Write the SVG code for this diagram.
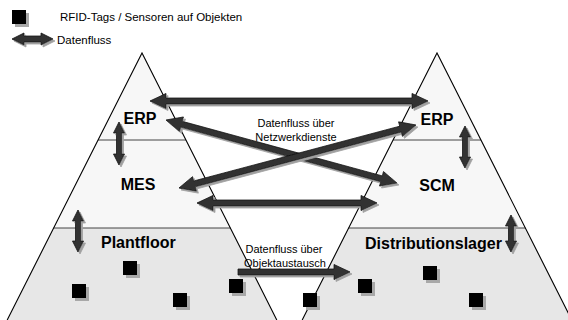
<svg xmlns="http://www.w3.org/2000/svg" width="568" height="320" viewBox="0 0 568 320">
<style>
.top{fill:#f7f7f7;stroke:none}
.bot{fill:#e7e7e7;stroke:none}
.edge{stroke:#000;stroke-width:1.1;fill:none}
.div{stroke:#444;stroke-width:1;fill:none}
.arr{fill:#333;stroke:#111;stroke-width:0.8;filter:url(#sh)}
.tag{fill:#000;filter:url(#sh2)}
.big{font-family:"Liberation Sans",Arial,sans-serif;font-weight:bold;font-size:16px;fill:#000}
.sm{font-family:"Liberation Sans",Arial,sans-serif;font-size:11px;fill:#000}
.lg{font-family:"Liberation Sans",Arial,sans-serif;font-size:11.5px;fill:#000}
.mid{text-anchor:middle}
</style>
<defs>
<filter id="sh" filterUnits="userSpaceOnUse" x="0" y="0" width="568" height="320">
<feOffset in="SourceAlpha" dx="2" dy="2" result="o"/>
<feFlood flood-color="#a0a0a0"/>
<feComposite in2="o" operator="in"/>
<feMerge><feMergeNode/><feMergeNode in="SourceGraphic"/></feMerge>
</filter>
<filter id="sh2" filterUnits="userSpaceOnUse" x="0" y="0" width="568" height="320">
<feOffset in="SourceAlpha" dx="3" dy="3" result="o"/>
<feFlood flood-color="#a8a8a8"/>
<feComposite in2="o" operator="in"/>
<feMerge><feMergeNode/><feMergeNode in="SourceGraphic"/></feMerge>
</filter>
</defs>
<rect width="568" height="320" fill="#fff"/>

<g id="legend">
<rect class="tag" x="12" y="10" width="14" height="14"/>
<text class="lg" x="60" y="21">RFID-Tags / Sensoren auf Objekten</text>
<polygon class="arr" points="12,39 24,33 24,36 41,36 41,33 53,39 41,45 41,42 24,42 24,45"/>
<text class="lg" x="57" y="44">Datenfluss</text>
</g>

<g id="pyramid-left">
<polygon class="top" points="142,53 53.6,228 230.4,228"/>
<polygon class="bot" points="53.6,228 230.4,228 276.8,320 7.2,320"/>
<line class="div" x1="98.1" y1="140" x2="185.9" y2="140"/>
<line class="div" x1="53.6" y1="228" x2="230.4" y2="228"/>
<polyline class="edge" points="7.2,320 142,53 276.8,320"/>
</g>
<g id="pyramid-right">
<polygon class="top" points="437,53 348.6,228 525.4,228"/>
<polygon class="bot" points="348.6,228 525.4,228 571.8,320 302.2,320"/>
<line class="div" x1="393.1" y1="140" x2="480.9" y2="140"/>
<line class="div" x1="348.6" y1="228" x2="525.4" y2="228"/>
<polyline class="edge" points="302.2,320 437,53 571.8,320"/>
</g>

<g id="erp-left"><text class="big mid" x="140" y="124">ERP</text></g>
<g id="mes"><text class="big mid" x="138" y="190">MES</text></g>
<g id="plantfloor"><text class="big" x="101" y="248">Plantfloor</text></g>
<g id="erp-right"><text class="big mid" x="437" y="125">ERP</text></g>
<g id="scm"><text class="big mid" x="437" y="191">SCM</text></g>
<g id="distributionslager"><text class="big" x="365" y="249">Distributionslager</text></g>

<g id="tags">
<rect class="tag" x="123" y="261" width="14" height="14"/>
<rect class="tag" x="72" y="284" width="14" height="14"/>
<rect class="tag" x="173" y="293" width="14" height="14"/>
<rect class="tag" x="229" y="279" width="14" height="14"/>
<rect class="tag" x="303" y="293" width="14" height="14"/>
<rect class="tag" x="358" y="279" width="14" height="14"/>
<rect class="tag" x="423" y="266" width="14" height="14"/>
<rect class="tag" x="469" y="293" width="14" height="14"/>
</g>

<g id="connectors">
<polygon class="arr" points="150,101 166,93.5 166,98 412,98 412,93.5 428,101 412,108.5 412,104 166,104 166,108.5"/>
<polygon class="arr" points="166,120 183.41,116.98 182.22,121.32 382.30,175.91 383.49,171.56 396.95,183.01 379.54,186.03 380.72,181.69 180.65,127.11 179.46,131.45"/>
<polygon class="arr" points="179,188 192.54,176.64 193.69,180.99 399.73,126.20 398.57,121.85 415.96,124.98 402.43,136.35 401.27,132.00 195.23,186.79 196.39,191.14"/>
<polygon class="arr" points="197,203 213,195.5 213,200 361,200 361,195.5 377,203 361,210.5 361,206 213,206 213,210.5"/>
<polygon class="arr" points="238,269 334,269 334,264.5 350,272 334,279.5 334,275 238,275"/>
<polygon class="arr" points="119,122 124.5,133 121.5,133 121.5,154 124.5,154 119,165 113.5,154 116.5,154 116.5,133 113.5,133"/>
<polygon class="arr" points="78,210 83.5,221 80.5,221 80.5,241 83.5,241 78,252 72.5,241 75.5,241 75.5,221 72.5,221"/>
<polygon class="arr" points="465,126 470.5,137 467.5,137 467.5,157 470.5,157 465,168 459.5,157 462.5,157 462.5,137 459.5,137"/>
<polygon class="arr" points="511,215 516.5,226 513.5,226 513.5,241 516.5,241 511,252 505.5,241 508.5,241 508.5,226 505.5,226"/>
<text class="sm mid" x="296" y="127">Datenfluss über</text>
<text class="sm mid" x="296" y="141">Netzwerkdienste</text>
<text class="sm mid" x="284" y="253">Datenfluss über</text>
<text class="sm mid" x="285" y="267">Objektaustausch</text>
</g>
</svg>
